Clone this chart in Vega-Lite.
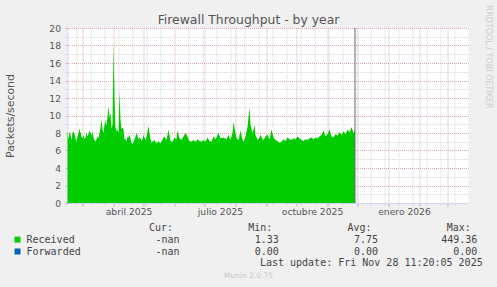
{
  "$schema": "https://vega.github.io/schema/vega-lite/v6.json",
  "background": "#f0f0f0",
  "padding": {"left": 4.5, "top": 5, "right": 6, "bottom": 7},
  "spacing": 18.75,
  "bounds": "flush",
  "title": {"text": "RRDTOOL / TOBI OETIKER", "orient": "right", "anchor": "start", "font": "DejaVu Sans", "fontSize": 8, "fontWeight": "normal", "color": "#cccccc", "offset": -6.5, "dx": -8},
  "config": {"view": {"stroke": null}, "font": "DejaVu Sans"},
  "datasets": {
    "received": [
      {"date": "2025-02-14", "value": 8.1}, {"date": "2025-02-15", "value": 7.3}, {"date": "2025-02-16", "value": 8.2}, {"date": "2025-02-17", "value": 7.8},
      {"date": "2025-02-18", "value": 7.2}, {"date": "2025-02-19", "value": 8.0}, {"date": "2025-02-20", "value": 8.2}, {"date": "2025-02-21", "value": 7.9},
      {"date": "2025-02-22", "value": 7.4}, {"date": "2025-02-23", "value": 7.0}, {"date": "2025-02-24", "value": 7.6}, {"date": "2025-02-25", "value": 8.0},
      {"date": "2025-02-26", "value": 8.5}, {"date": "2025-02-27", "value": 8.1}, {"date": "2025-02-28", "value": 7.6}, {"date": "2025-03-01", "value": 7.4},
      {"date": "2025-03-02", "value": 7.8}, {"date": "2025-03-03", "value": 7.3}, {"date": "2025-03-04", "value": 7.5}, {"date": "2025-03-05", "value": 8.1},
      {"date": "2025-03-06", "value": 7.6}, {"date": "2025-03-07", "value": 7.9}, {"date": "2025-03-08", "value": 8.3}, {"date": "2025-03-09", "value": 8.0},
      {"date": "2025-03-10", "value": 7.7}, {"date": "2025-03-11", "value": 8.2}, {"date": "2025-03-12", "value": 7.5}, {"date": "2025-03-13", "value": 7.2},
      {"date": "2025-03-14", "value": 7.0}, {"date": "2025-03-15", "value": 7.3}, {"date": "2025-03-16", "value": 7.6}, {"date": "2025-03-17", "value": 7.4},
      {"date": "2025-03-18", "value": 8.0}, {"date": "2025-03-19", "value": 8.6}, {"date": "2025-03-20", "value": 9.6}, {"date": "2025-03-21", "value": 8.4},
      {"date": "2025-03-22", "value": 8.0}, {"date": "2025-03-23", "value": 8.9}, {"date": "2025-03-24", "value": 9.5}, {"date": "2025-03-25", "value": 8.8},
      {"date": "2025-03-26", "value": 9.9}, {"date": "2025-03-27", "value": 11.1}, {"date": "2025-03-28", "value": 9.8}, {"date": "2025-03-29", "value": 10.3},
      {"date": "2025-03-30", "value": 8.5}, {"date": "2025-03-31", "value": 9.0}, {"date": "2025-04-01", "value": 18.2}, {"date": "2025-04-02", "value": 12.0},
      {"date": "2025-04-03", "value": 8.6}, {"date": "2025-04-04", "value": 8.2}, {"date": "2025-04-05", "value": 8.4}, {"date": "2025-04-06", "value": 8.0},
      {"date": "2025-04-07", "value": 12.9}, {"date": "2025-04-08", "value": 9.5}, {"date": "2025-04-09", "value": 8.5}, {"date": "2025-04-10", "value": 8.6},
      {"date": "2025-04-11", "value": 8.4}, {"date": "2025-04-12", "value": 7.2}, {"date": "2025-04-13", "value": 7.4}, {"date": "2025-04-14", "value": 7.0},
      {"date": "2025-04-15", "value": 7.6}, {"date": "2025-04-16", "value": 7.5}, {"date": "2025-04-17", "value": 7.8}, {"date": "2025-04-18", "value": 7.4},
      {"date": "2025-04-19", "value": 6.9}, {"date": "2025-04-20", "value": 6.7}, {"date": "2025-04-21", "value": 7.0}, {"date": "2025-04-22", "value": 7.3},
      {"date": "2025-04-23", "value": 7.6}, {"date": "2025-04-24", "value": 8.0}, {"date": "2025-04-25", "value": 7.7}, {"date": "2025-04-26", "value": 7.3},
      {"date": "2025-04-27", "value": 7.5}, {"date": "2025-04-28", "value": 7.4}, {"date": "2025-04-29", "value": 7.1}, {"date": "2025-04-30", "value": 7.3},
      {"date": "2025-05-01", "value": 7.8}, {"date": "2025-05-02", "value": 7.5}, {"date": "2025-05-03", "value": 7.2}, {"date": "2025-05-04", "value": 7.6},
      {"date": "2025-05-05", "value": 8.2}, {"date": "2025-05-06", "value": 8.8}, {"date": "2025-05-07", "value": 8.0}, {"date": "2025-05-08", "value": 7.3},
      {"date": "2025-05-09", "value": 6.9}, {"date": "2025-05-10", "value": 7.0}, {"date": "2025-05-12", "value": 7.2}, {"date": "2025-05-14", "value": 6.8},
      {"date": "2025-05-16", "value": 7.1}, {"date": "2025-05-18", "value": 6.8}, {"date": "2025-05-20", "value": 7.3}, {"date": "2025-05-22", "value": 7.6},
      {"date": "2025-05-24", "value": 7.2}, {"date": "2025-05-26", "value": 8.4}, {"date": "2025-05-28", "value": 7.1}, {"date": "2025-05-30", "value": 7.0},
      {"date": "2025-06-01", "value": 7.5}, {"date": "2025-06-03", "value": 7.3}, {"date": "2025-06-04", "value": 8.3}, {"date": "2025-06-06", "value": 7.4},
      {"date": "2025-06-08", "value": 7.2}, {"date": "2025-06-10", "value": 7.6}, {"date": "2025-06-12", "value": 8.0}, {"date": "2025-06-14", "value": 7.6},
      {"date": "2025-06-16", "value": 7.1}, {"date": "2025-06-18", "value": 7.0}, {"date": "2025-06-20", "value": 7.2}, {"date": "2025-06-22", "value": 7.0},
      {"date": "2025-06-24", "value": 7.3}, {"date": "2025-06-26", "value": 7.1}, {"date": "2025-06-28", "value": 7.0}, {"date": "2025-06-30", "value": 7.2},
      {"date": "2025-07-02", "value": 7.0}, {"date": "2025-07-04", "value": 7.5}, {"date": "2025-07-06", "value": 7.1}, {"date": "2025-07-08", "value": 7.0},
      {"date": "2025-07-10", "value": 7.6}, {"date": "2025-07-12", "value": 7.3}, {"date": "2025-07-15", "value": 8.0}, {"date": "2025-07-17", "value": 7.4},
      {"date": "2025-07-20", "value": 7.5}, {"date": "2025-07-23", "value": 7.3}, {"date": "2025-07-25", "value": 7.8}, {"date": "2025-07-27", "value": 7.2},
      {"date": "2025-07-29", "value": 8.0}, {"date": "2025-07-30", "value": 9.3}, {"date": "2025-08-01", "value": 8.0}, {"date": "2025-08-02", "value": 7.4},
      {"date": "2025-08-04", "value": 7.2}, {"date": "2025-08-06", "value": 8.3}, {"date": "2025-08-08", "value": 7.3}, {"date": "2025-08-09", "value": 7.0},
      {"date": "2025-08-11", "value": 7.6}, {"date": "2025-08-13", "value": 8.7}, {"date": "2025-08-15", "value": 10.9}, {"date": "2025-08-16", "value": 9.0},
      {"date": "2025-08-18", "value": 8.0}, {"date": "2025-08-20", "value": 8.9}, {"date": "2025-08-21", "value": 7.8}, {"date": "2025-08-23", "value": 7.2},
      {"date": "2025-08-25", "value": 7.5}, {"date": "2025-08-26", "value": 7.8}, {"date": "2025-08-28", "value": 7.3}, {"date": "2025-08-29", "value": 7.2},
      {"date": "2025-08-31", "value": 7.6}, {"date": "2025-09-02", "value": 7.8}, {"date": "2025-09-04", "value": 7.3}, {"date": "2025-09-06", "value": 8.4},
      {"date": "2025-09-08", "value": 7.5}, {"date": "2025-09-10", "value": 7.2}, {"date": "2025-09-12", "value": 7.1}, {"date": "2025-09-14", "value": 6.9},
      {"date": "2025-09-16", "value": 7.0}, {"date": "2025-09-18", "value": 7.3}, {"date": "2025-09-20", "value": 7.1}, {"date": "2025-09-22", "value": 7.5},
      {"date": "2025-09-24", "value": 7.3}, {"date": "2025-09-26", "value": 7.2}, {"date": "2025-09-28", "value": 7.4}, {"date": "2025-09-30", "value": 7.3},
      {"date": "2025-10-02", "value": 7.6}, {"date": "2025-10-04", "value": 7.4}, {"date": "2025-10-06", "value": 7.2}, {"date": "2025-10-08", "value": 7.1},
      {"date": "2025-10-10", "value": 7.3}, {"date": "2025-10-12", "value": 7.2}, {"date": "2025-10-14", "value": 7.4}, {"date": "2025-10-16", "value": 7.5},
      {"date": "2025-10-18", "value": 7.3}, {"date": "2025-10-20", "value": 7.5}, {"date": "2025-10-22", "value": 7.4}, {"date": "2025-10-24", "value": 7.6},
      {"date": "2025-10-26", "value": 7.8}, {"date": "2025-10-28", "value": 8.3}, {"date": "2025-10-30", "value": 7.6}, {"date": "2025-11-01", "value": 7.9},
      {"date": "2025-11-03", "value": 8.4}, {"date": "2025-11-05", "value": 7.6}, {"date": "2025-11-07", "value": 7.5}, {"date": "2025-11-09", "value": 7.9},
      {"date": "2025-11-11", "value": 7.7}, {"date": "2025-11-13", "value": 8.1}, {"date": "2025-11-15", "value": 7.8}, {"date": "2025-11-17", "value": 8.2},
      {"date": "2025-11-19", "value": 7.9}, {"date": "2025-11-21", "value": 8.4}, {"date": "2025-11-23", "value": 8.1}, {"date": "2025-11-25", "value": 8.7},
      {"date": "2025-11-27", "value": 8.0}, {"date": "2025-11-28T11:20:05", "value": 8.3}
    ],
    "forwarded": [
      {"date": "2025-02-14", "value": 0}, {"date": "2025-11-28T11:20:05", "value": 0}
    ],
    "now": [{"date": "2025-11-28T11:20:05"}],
    "series": [{"series": "Received"}, {"series": "Forwarded"}],
    "header": [
      {"row": "hdr", "col": "Cur", "text": "Cur:"},
      {"row": "hdr", "col": "Min", "text": "Min:"},
      {"row": "hdr", "col": "Avg", "text": "Avg:"},
      {"row": "hdr", "col": "Max", "text": "Max:"}
    ],
    "table": [
      {"row": "Received", "col": "Cur", "text": "-nan"},
      {"row": "Received", "col": "Min", "text": "1.33"},
      {"row": "Received", "col": "Avg", "text": "7.75"},
      {"row": "Received", "col": "Max", "text": "449.36"},
      {"row": "Forwarded", "col": "Cur", "text": "-nan"},
      {"row": "Forwarded", "col": "Min", "text": "0.00"},
      {"row": "Forwarded", "col": "Avg", "text": "0.00"},
      {"row": "Forwarded", "col": "Max", "text": "0.00"}
    ],
    "update": [{"text": "Last update: Fri Nov 28 11:20:05 2025"}]
  },
  "vconcat": [
    {
      "width": 401,
      "height": 175,
      "view": {"fill": "#ffffff", "stroke": null},
      "title": {"text": "Firewall Throughput - by year", "font": "DejaVu Sans", "fontSize": 12.4, "fontWeight": "normal", "color": "#555555", "anchor": "middle", "offset": -2, "dx": -19.5},
      "layer": [
        {
          "data": {"name": "forwarded"},
          "mark": {"type": "line", "color": "#0066b3", "strokeWidth": 1},
          "encoding": {
            "x": {"field": "date", "type": "temporal",
              "scale": {"domain": [{"year": 2025, "month": 2, "date": 14}, {"year": 2026, "month": 3, "date": 22}]},
              "axis": {"orient": "bottom", "title": null, "labels": false, "domain": false, "zindex": 0,
                "values": [{"year": 2025, "month": 3, "date": 1}, {"year": 2025, "month": 4, "date": 1}, {"year": 2025, "month": 5, "date": 1}, {"year": 2025, "month": 6, "date": 1}, {"year": 2025, "month": 7, "date": 1}, {"year": 2025, "month": 8, "date": 1}, {"year": 2025, "month": 9, "date": 1}, {"year": 2025, "month": 10, "date": 1}, {"year": 2025, "month": 11, "date": 1}, {"year": 2025, "month": 12, "date": 1}, {"year": 2026, "month": 1, "date": 1}, {"year": 2026, "month": 2, "date": 1}, {"year": 2026, "month": 3, "date": 1}],
                "grid": true, "gridColor": "#e49a9a", "gridDash": [1, 1], "gridOpacity": 0.9, "ticks": true, "tickColor": "#e49a9a", "tickSize": 3}},
            "y": {"field": "value", "type": "quantitative",
              "scale": {"domain": [0, 20], "nice": false},
              "axis": {"orient": "left", "title": null, "labels": false, "domain": false, "zindex": 0,
                "values": [1, 3, 5, 7, 9, 11, 13, 15, 17, 19],
                "grid": true, "gridColor": "#d2d2d2", "gridDash": [1, 1], "gridOpacity": 0.9, "ticks": true, "tickColor": "#d2d2d2", "tickSize": 2}}
          }
        },
        {
          "data": {"name": "received"},
          "mark": {"type": "area", "color": "#00cc00", "opacity": 1, "interpolate": "linear"},
          "encoding": {
            "x": {"field": "date", "type": "temporal",
              "axis": {"orient": "bottom", "title": null, "grid": false, "ticks": false, "domain": true, "domainColor": "#cfd6f8", "zindex": 1,
                "values": [{"year": 2025, "month": 4, "date": 16}, {"year": 2025, "month": 7, "date": 16, "hours": 12}, {"year": 2025, "month": 10, "date": 16, "hours": 12}, {"year": 2026, "month": 1, "date": 16, "hours": 12}],
                "labelExpr": "['enero','febrero','marzo','abril','mayo','junio','julio','agosto','septiembre','octubre','noviembre','diciembre'][month(datum.value)] + ' ' + year(datum.value)",
                "labelFont": "DejaVu Sans", "labelFontSize": 9.2, "labelColor": "#555555", "labelPadding": 4, "labelOverlap": false, "labelFlush": false}},
            "y": {"field": "value", "type": "quantitative",
              "axis": {"orient": "left", "zindex": 0, "values": [0, 2, 4, 6, 8, 10, 12, 14, 16, 18, 20],
                "grid": true, "gridColor": "#e49a9a", "gridDash": [1, 1], "gridOpacity": 0.9,
                "ticks": true, "tickColor": "#e49a9a", "tickSize": 2,
                "domain": true, "domainColor": "#cfd6f8",
                "labelFont": "DejaVu Sans", "labelFontSize": 9.2, "labelColor": "#555555", "labelPadding": 5,
                "title": "Packets/second", "titleFont": "DejaVu Sans", "titleFontSize": 10.9, "titleFontWeight": "normal", "titleColor": "#555555",
                "titleX": -57, "titleY": 87.5, "titleBaseline": "middle", "titleAlign": "center", "titleAngle": -90}}
          }
        },
        {
          "data": {"name": "now"},
          "mark": {"type": "rule", "color": "#666666", "strokeWidth": 1},
          "encoding": {
            "x": {"field": "date", "type": "temporal",
              "axis": {"orient": "bottom", "title": null, "labels": false, "domain": false, "zindex": 0,
                "values": [{"year": 2025, "month": 2, "date": 23}, {"year": 2025, "month": 3, "date": 9}, {"year": 2025, "month": 3, "date": 23}, {"year": 2025, "month": 4, "date": 6}, {"year": 2025, "month": 4, "date": 20}, {"year": 2025, "month": 5, "date": 4}, {"year": 2025, "month": 5, "date": 18}, {"year": 2025, "month": 6, "date": 15}, {"year": 2025, "month": 6, "date": 29}, {"year": 2025, "month": 7, "date": 13}, {"year": 2025, "month": 7, "date": 27}, {"year": 2025, "month": 8, "date": 10}, {"year": 2025, "month": 8, "date": 24}, {"year": 2025, "month": 9, "date": 7}, {"year": 2025, "month": 9, "date": 21}, {"year": 2025, "month": 10, "date": 5}, {"year": 2025, "month": 10, "date": 19}, {"year": 2025, "month": 11, "date": 2}, {"year": 2025, "month": 11, "date": 16}, {"year": 2025, "month": 11, "date": 30}, {"year": 2025, "month": 12, "date": 14}, {"year": 2025, "month": 12, "date": 28}, {"year": 2026, "month": 1, "date": 11}, {"year": 2026, "month": 1, "date": 25}, {"year": 2026, "month": 2, "date": 8}, {"year": 2026, "month": 2, "date": 22}, {"year": 2026, "month": 3, "date": 8}],
                "grid": true, "gridColor": "#d2d2d2", "gridDash": [1, 1], "gridOpacity": 0.9, "ticks": true, "tickColor": "#d2d2d2", "tickSize": 2}}
          }
        }
      ],
      "resolve": {"axis": {"x": "independent", "y": "independent"}}
    },
    {
      "width": 422.6,
      "height": 47.6,
      "view": {"stroke": null},
      "title": {"text": "Munin 2.0.75", "orient": "bottom", "anchor": "middle", "font": "DejaVu Sans", "fontSize": 7.5, "fontWeight": "normal", "color": "#c8c8c8", "offset": 3, "dx": -30.3},
      "layer": [
        {
          "data": {"name": "series"},
          "mark": {"type": "square", "size": 36, "filled": true, "opacity": 1, "xOffset": -62.7},
          "encoding": {
            "x": {"datum": "name", "type": "nominal", "scale": {"type": "point", "domain": ["name", "Cur", "Min", "Avg", "Max"], "padding": 0.128}, "axis": null},
            "y": {"field": "series", "type": "nominal", "scale": {"type": "point", "domain": ["hdr", "Received", "Forwarded", "upd"], "padding": 0.5}, "axis": null},
            "color": {"field": "series", "type": "nominal", "scale": {"domain": ["Received", "Forwarded"], "range": ["#00cc00", "#0066b3"]}, "legend": null}
          }
        },
        {
          "data": {"name": "series"},
          "mark": {"type": "text", "align": "left", "baseline": "middle", "dx": -53.7, "font": "DejaVu Sans Mono", "fontSize": 10, "color": "#444444"},
          "encoding": {
            "x": {"datum": "name", "type": "nominal"},
            "y": {"field": "series", "type": "nominal"},
            "text": {"field": "series"}
          }
        },
        {
          "data": {"name": "header"},
          "mark": {"type": "text", "align": "right", "baseline": "middle", "dx": -6.5, "font": "DejaVu Sans Mono", "fontSize": 10, "color": "#444444"},
          "encoding": {
            "x": {"field": "col", "type": "nominal"},
            "y": {"field": "row", "type": "nominal"},
            "text": {"field": "text"}
          }
        },
        {
          "data": {"name": "table"},
          "mark": {"type": "text", "align": "right", "baseline": "middle", "font": "DejaVu Sans Mono", "fontSize": 10, "color": "#444444"},
          "encoding": {
            "x": {"field": "col", "type": "nominal"},
            "y": {"field": "row", "type": "nominal"},
            "text": {"field": "text"}
          }
        },
        {
          "data": {"name": "update"},
          "mark": {"type": "text", "align": "right", "baseline": "middle", "dx": 5.3, "font": "DejaVu Sans Mono", "fontSize": 10, "color": "#444444"},
          "encoding": {
            "x": {"datum": "Max", "type": "nominal"},
            "y": {"datum": "upd", "type": "nominal"},
            "text": {"field": "text"}
          }
        }
      ]
    }
  ]
}
